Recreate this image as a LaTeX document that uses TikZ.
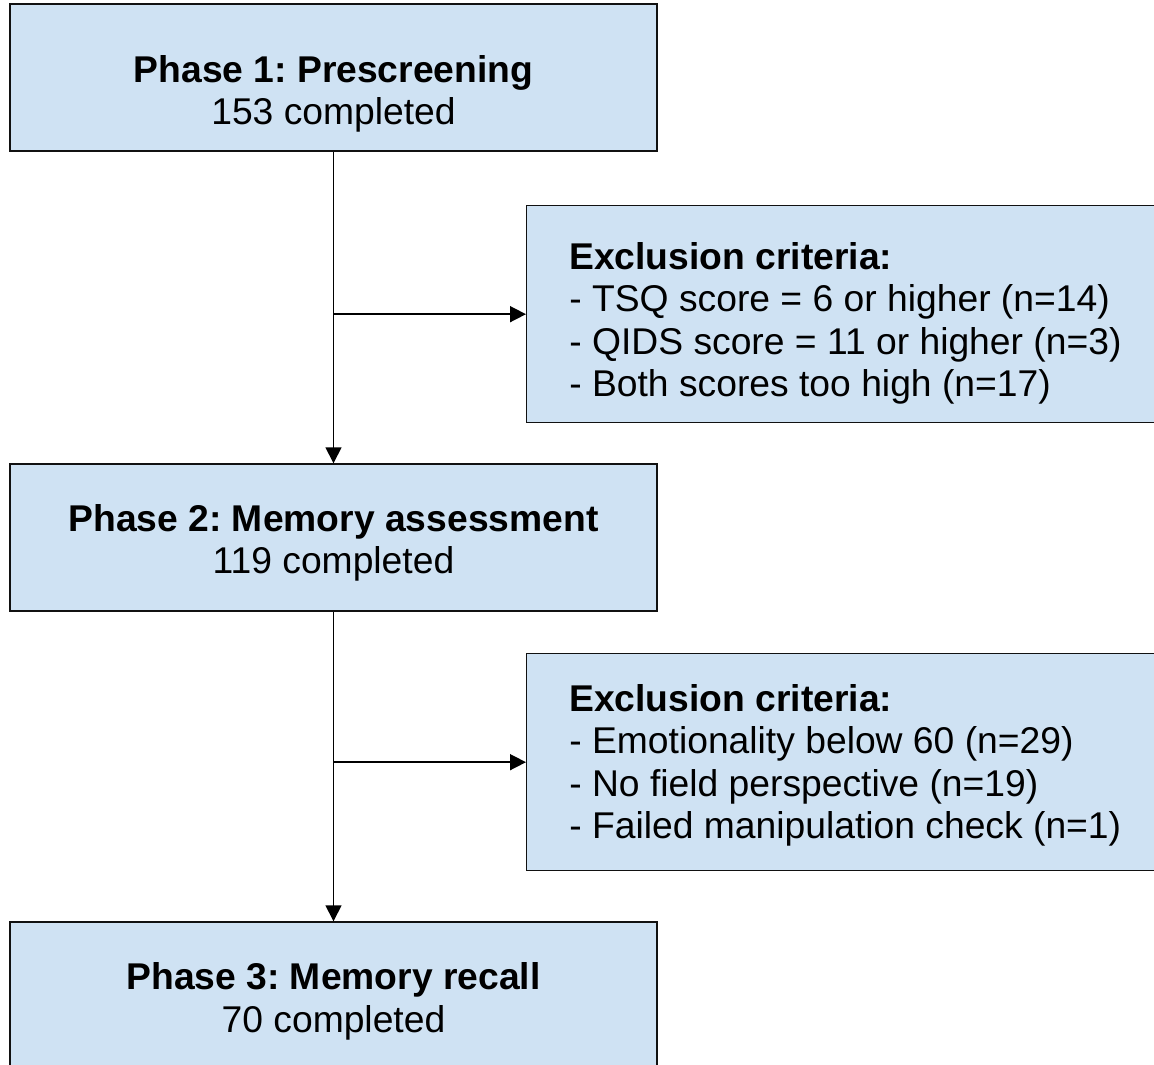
\documentclass[tikz,border=0pt]{standalone}
\usepackage{fontspec}
\setmainfont{Liberation Sans}
\usetikzlibrary{arrows.meta,calc,positioning}
\definecolor{FlowFill}{HTML}{CFE2F3}
\definecolor{FlowLine}{HTML}{111111}

\begin{document}
\frenchspacing
\begin{tikzpicture}[x=1cm,y=1cm,
    phasebox/.style={draw=FlowLine,fill=FlowFill,line width=0.8pt,
      minimum width=12.94cm,minimum height=2.94cm,inner sep=0pt},
    exclbox/.style={draw=FlowLine,fill=FlowFill,line width=0.8pt,
      minimum width=13.2cm,minimum height=4.34cm,inner sep=0pt},
    flowtext/.style={font=\fontsize{21.2}{24.1}\selectfont,inner sep=0pt},
    flowarrow/.style={-{Triangle[length=0.32cm,width=0.32cm]},
      line width=0.9pt}]
  \useasboundingbox (0,0) rectangle (23.08,21.30);
  \clip (0,0) rectangle (23.08,21.30);

  % phases down the left, exclusions on the right
  \node[phasebox] (p1) at (6.67,19.75) {};
  \node[phasebox] (p2) at (6.67,10.55) {};
  \node[phasebox] (p3) at (6.67,1.39) {};
  \node[exclbox,anchor=north west] (ex1) at (10.52,17.20) {};
  \node[exclbox,anchor=north west] (ex2) at (10.52,8.24) {};

  \node[flowtext,align=center] (p1text) at (6.67,19.42)
    {\textbf{Phase 1: Prescreening}\\153 completed};
  \node[flowtext,align=center] (p2text) at (6.67,10.44)
    {\textbf{Phase 2: Memory assessment}\\119 completed};
  \node[flowtext,align=center] (p3text) at (6.67,1.27)
    {\textbf{Phase 3: Memory recall}\\70 completed};

  \node[flowtext,align=left,anchor=west] (ex1text) at (11.38,14.83)
    {\textbf{Exclusion criteria:}\\
     - TSQ score = 6 or higher (n=14)\\
     - QIDS score = 11 or higher (n=3)\\
     - Both scores too high (n=17)};
  \node[flowtext,align=left,anchor=west] (ex2text) at (11.38,5.99)
    {\textbf{Exclusion criteria:}\\
     - Emotionality below 60 (n=29)\\
     - No field perspective (n=19)\\
     - Failed manipulation check (n=1)};

  % main flow and side branches
  \draw[flowarrow] (p1.south) -- (p2.north);
  \draw[flowarrow] (p2.south) -- (p3.north);
  \coordinate (fork1) at (p1.south |- ex1.west);
  \coordinate (fork2) at (p2.south |- ex2.west);
  \draw[flowarrow] (fork1) -- (ex1.west);
  \draw[flowarrow] (fork2) -- (ex2.west);
\end{tikzpicture}
\end{document}
